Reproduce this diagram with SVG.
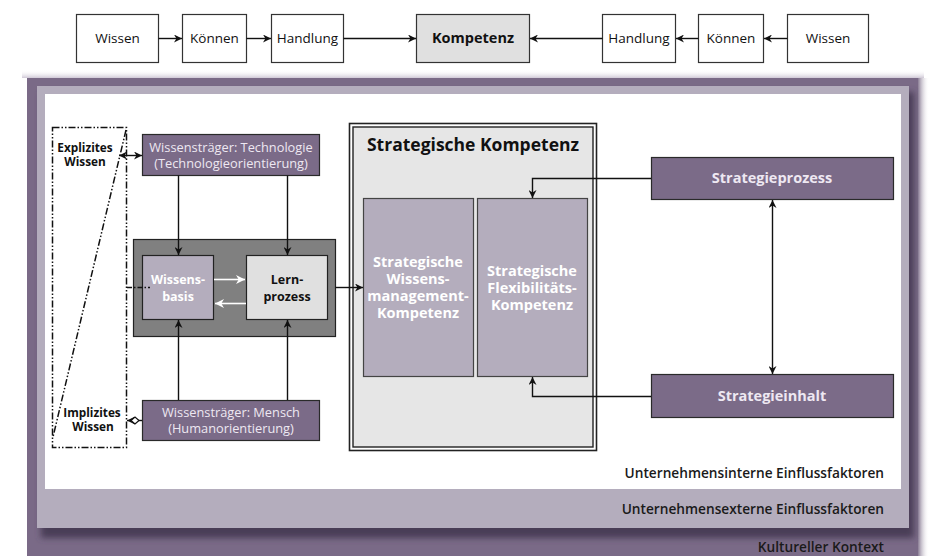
<svg xmlns="http://www.w3.org/2000/svg" width="929" height="556" viewBox="0 0 929 556">
<defs>
<style>
.box{fill:#fff;stroke:#333;stroke-width:1.2}
.t{font-family:"Open Sans","Liberation Sans",sans-serif;font-size:13.5px;fill:#111;text-anchor:middle}
.b{font-weight:700}
.pbox{fill:#7b6b88;stroke:#2a2a2a;stroke-width:1.2}
.pt{font-family:"Open Sans","Liberation Sans",sans-serif;font-size:12.8px;fill:#eee8f2;text-anchor:middle}
.ln{stroke:#111;stroke-width:1.4;fill:none}
.wl{stroke:#fff;stroke-width:1.6;fill:none}
.lbl{font-family:"Open Sans","Liberation Sans",sans-serif;font-size:13.7px;font-weight:600;fill:#1a1a1a;text-anchor:end}
.dd{stroke:#111;stroke-width:1.5;fill:none;stroke-dasharray:7 2 1.5 2 1.5 2}
.sm{font-size:11.8px}
.inner{fill:#fff;font-size:14.5px}
</style>
<marker id="ah" viewBox="0 0 10 10" refX="10" refY="5" markerWidth="8" markerHeight="8" markerUnits="userSpaceOnUse" orient="auto-start-reverse">
<path d="M0,0 L10,5 L0,10 L3,5 z" fill="#111"/>
</marker>
<marker id="aw" viewBox="0 0 10 10" refX="10" refY="5" markerWidth="9" markerHeight="9" markerUnits="userSpaceOnUse" orient="auto-start-reverse">
<path d="M0,0 L10,5 L0,10 L3,5 z" fill="#fff"/>
</marker>
<linearGradient id="gr" x1="0" x2="1" y1="0" y2="0">
<stop offset="0" stop-color="#8a7d95"/>
<stop offset="1" stop-color="#fff" stop-opacity="0"/>
</linearGradient>
<linearGradient id="gt" x1="0" x2="0" y1="1" y2="0">
<stop offset="0" stop-color="#cfc8d6"/>
<stop offset="1" stop-color="#fff" stop-opacity="0"/>
</linearGradient>
<filter id="sh" x="-5%" y="-5%" width="110%" height="120%">
<feGaussianBlur stdDeviation="3"/>
</filter>
</defs>
<rect width="929" height="556" fill="#fff"/>

<!-- frames -->
<g id="frames">
<rect x="22" y="70" width="902" height="8" fill="url(#gt)"/>
<rect x="918" y="78" width="11" height="478" fill="url(#gr)"/>
<rect x="27" y="78" width="891" height="478" fill="#7a6a87"/>
<rect x="41" y="92" width="873" height="446" fill="#4a3c57" filter="url(#sh)"/>
<rect x="37" y="86" width="872" height="442" fill="#b4adbd"/>
<rect x="45" y="94" width="856" height="395" fill="#fff"/>
<text class="lbl" x="884" y="478">Unternehmensinterne Einflussfaktoren</text>
<text class="lbl" x="884" y="514">Unternehmensexterne Einflussfaktoren</text>
<text class="lbl" x="884" y="552">Kultureller Kontext</text>
</g>

<!-- top row -->
<g id="top-wissen-l"><rect class="box" x="76.5" y="14.5" width="82" height="48"/><text class="t" x="117.5" y="43">Wissen</text></g>
<g id="top-koennen-l"><rect class="box" x="182.5" y="14.5" width="64" height="48"/><text class="t" x="214.5" y="43">Können</text></g>
<g id="top-handlung-l"><rect class="box" x="271.5" y="14.5" width="72" height="48"/><text class="t" x="307.5" y="43">Handlung</text></g>
<g id="top-kompetenz"><rect class="box" x="416.5" y="14.5" width="113" height="48" style="fill:#e0e0e0"/><text class="t b" x="473" y="43" style="font-size:14.5px">Kompetenz</text></g>
<g id="top-handlung-r"><rect class="box" x="602.5" y="14.5" width="73" height="48"/><text class="t" x="639" y="43">Handlung</text></g>
<g id="top-koennen-r"><rect class="box" x="698.5" y="14.5" width="65" height="48"/><text class="t" x="731" y="43">Können</text></g>
<g id="top-wissen-r"><rect class="box" x="787.5" y="14.5" width="81" height="48"/><text class="t" x="828" y="43">Wissen</text></g>

<!-- left knowledge band -->
<g id="wissen-band">
<rect x="52.5" y="127.5" width="74" height="320" fill="#e6e6e6" class="dd"/>
<line x1="126" y1="130" x2="53" y2="437" class="dd"/>
<text class="t b sm" x="85" y="151.5">Explizites<tspan x="85" dy="14.5">Wissen</tspan></text>
<text class="t b sm" x="92" y="416.5">Implizites<tspan x="93" dy="14.5">Wissen</tspan></text>
</g>

<g id="traeger-technologie">
<rect class="pbox" x="142.5" y="134.5" width="177" height="41"/>
<text class="pt" x="231" y="152">Wissensträger: Technologie<tspan x="231" dy="16">(Technologieorientierung)</tspan></text>
</g>

<g id="traeger-mensch">
<rect class="pbox" x="142.5" y="400.5" width="177" height="40"/>
<text class="pt" x="231" y="417">Wissensträger: Mensch<tspan x="231" dy="16">(Humanorientierung)</tspan></text>
</g>

<g id="lernsystem">
<rect x="133.5" y="239.5" width="202" height="97" fill="#808080" stroke="#222" stroke-width="1.2"/>
</g>
<g id="wissensbasis">
<rect x="142.5" y="255.5" width="71" height="64" fill="#b4adbd" stroke="#222" stroke-width="1.2"/>
<text class="t b" x="178" y="284" style="fill:#fff;font-size:12.5px">Wissens-<tspan x="178" dy="16.5">basis</tspan></text>
</g>
<g id="lernprozess">
<rect x="246.5" y="255.5" width="81" height="64" fill="#e0e0e0" stroke="#222" stroke-width="1.2"/>
<text class="t b" x="287" y="284" style="font-size:12.5px">Lern-<tspan x="287" dy="16.5">prozess</tspan></text>
</g>

<g id="strategische-kompetenz">
<rect x="349.5" y="123.5" width="247" height="327" fill="#fff" stroke="#222" stroke-width="1.6"/>
<rect x="353" y="127" width="240" height="320" fill="#e6e6e6" stroke="#222" stroke-width="1.4"/>
<text class="t b" x="473" y="151" style="font-size:17.5px">Strategische Kompetenz</text>
</g>
<g id="wissensmanagement-kompetenz">
<rect x="363.5" y="198.5" width="110" height="178" fill="#b4adbd" stroke="#444" stroke-width="1.2"/>
<text class="t b inner" x="418" y="267">Strategische<tspan x="418" dy="17">Wissens-</tspan><tspan x="418" dy="17">management-</tspan><tspan x="418" dy="17">Kompetenz</tspan></text>
</g>
<g id="flexibilitaets-kompetenz">
<rect x="477.5" y="198.5" width="110" height="178" fill="#b4adbd" stroke="#444" stroke-width="1.2"/>
<text class="t b inner" x="532" y="276">Strategische<tspan x="532" dy="17">Flexibilitäts-</tspan><tspan x="532" dy="17">Kompetenz</tspan></text>
</g>

<g id="strategieprozess">
<rect class="pbox" x="651.5" y="157.5" width="242" height="42"/>
<text class="pt b" x="772" y="183" style="font-size:14.5px">Strategieprozess</text>
</g>
<g id="strategieinhalt">
<rect class="pbox" x="651.5" y="374.5" width="242" height="43"/>
<text class="pt b" x="772" y="401" style="font-size:14.5px">Strategieinhalt</text>
</g>

<!-- connectors -->
<g id="connectors">
<line class="ln" x1="158.5" y1="38.5" x2="182" y2="38.5" marker-end="url(#ah)"/>
<line class="ln" x1="246.5" y1="38.5" x2="271" y2="38.5" marker-end="url(#ah)"/>
<line class="ln" x1="343.5" y1="38.5" x2="416" y2="38.5" marker-end="url(#ah)"/>
<line class="ln" x1="602.5" y1="38.5" x2="530" y2="38.5" marker-end="url(#ah)"/>
<line class="ln" x1="698.5" y1="38.5" x2="676" y2="38.5" marker-end="url(#ah)"/>
<line class="ln" x1="787.5" y1="38.5" x2="764" y2="38.5" marker-end="url(#ah)"/>

<line class="ln" x1="119" y1="155.5" x2="142" y2="155.5" marker-start="url(#ah)" marker-end="url(#ah)"/>
<line class="ln" x1="127" y1="420.5" x2="142" y2="420.5" marker-start="url(#ah)"/>
<path d="M131,420.5 L135,417 L139,420.5 L135,424 z" fill="#fff" stroke="#111" stroke-width="1.2"/>
<line x1="127" y1="287.5" x2="150" y2="287.5" stroke="#111" stroke-width="1.4" stroke-dasharray="5 2 1.5 2"/>

<line class="ln" x1="178.5" y1="175.5" x2="178.5" y2="255" marker-end="url(#ah)"/>
<line class="ln" x1="287.5" y1="175.5" x2="287.5" y2="255" marker-end="url(#ah)"/>
<line class="ln" x1="178.5" y1="400" x2="178.5" y2="320" marker-end="url(#ah)"/>
<line class="ln" x1="287.5" y1="400" x2="287.5" y2="320" marker-end="url(#ah)"/>

<line class="wl" x1="214" y1="279.5" x2="245" y2="279.5" marker-end="url(#aw)"/>
<line class="wl" x1="246" y1="303.5" x2="215" y2="303.5" marker-end="url(#aw)"/>

<line class="ln" x1="335.5" y1="287.5" x2="363" y2="287.5" marker-end="url(#ah)"/>

<path class="ln" d="M651,178.5 H532.5 V198" marker-end="url(#ah)"/>
<path class="ln" d="M651,396.5 H532.5 V377" marker-end="url(#ah)"/>
<line class="ln" x1="772.5" y1="200" x2="772.5" y2="374" marker-start="url(#ah)" marker-end="url(#ah)"/>
</g>
</svg>
